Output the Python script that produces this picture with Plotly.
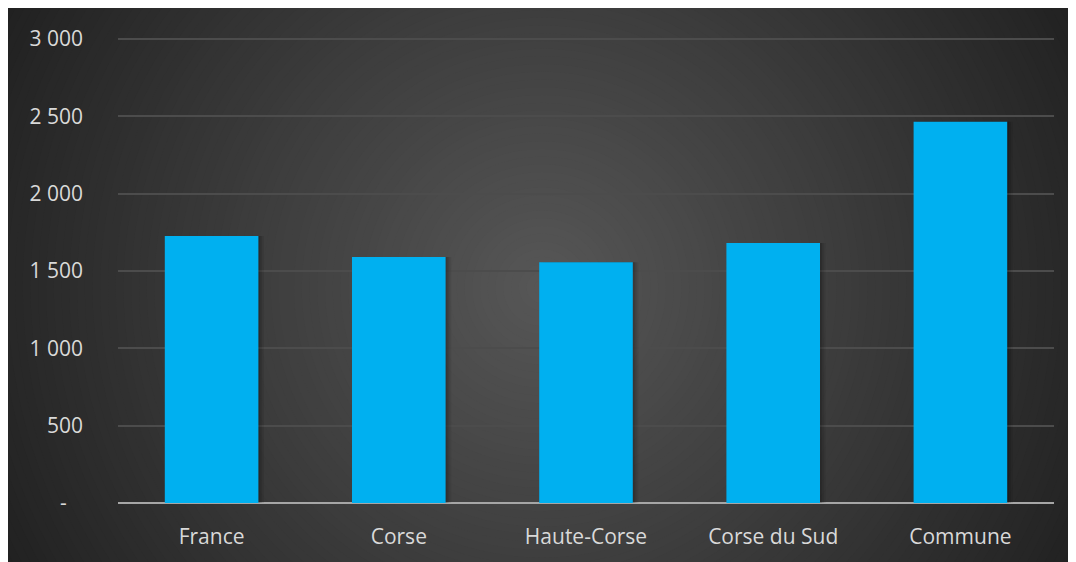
import plotly.graph_objects as go

categories = ["France", "Corse", "Haute-Corse", "Corse du Sud", "Commune"]
values = [1725, 1590, 1556, 1680, 2464]
tick_vals = [0, 500, 1000, 1500, 2000, 2500, 3000]
tick_text = ["-\u00a0\u00a0\u00a0", "500", "1 000", "1 500", "2 000", "2 500", "3 000"]

# page has an 8px body margin; figure coordinates are page coords - 8
W, H = 1068, 554
YMAX = 3025
L, R = 110, 1046
B = 497.5
ph = 466.6 * YMAX / 3000
T = B - ph
pw = R - L


def px2x(px):
    return (px - L) / pw


def py2y(py):
    return (B - py) / ph


shapes = []
# radial gradient background built from concentric circles
cx, cy = W / 2, H / 2 + 4
rmax = 620
N = 80
c0 = (0x57, 0x57, 0x57)
c1 = (0x20, 0x20, 0x20)
for i in range(N, 0, -1):
    r = rmax * i / N
    t = i / N
    col = tuple(round(c0[k] + (c1[k] - c0[k]) * t) for k in range(3))
    shapes.append(dict(
        type="circle", xref="paper", yref="paper", layer="below",
        x0=px2x(cx - r), x1=px2x(cx + r), y0=py2y(cy + r), y1=py2y(cy - r),
        fillcolor="rgb(%d,%d,%d)" % col, line=dict(width=0),
    ))

fig = go.Figure()
# soft shadow behind bars (layered for a blurred look)
for off, alpha in [(0.030, 0.07), (0.020, 0.09), (0.010, 0.12)]:
    fig.add_trace(go.Bar(
        x=categories, y=values, width=0.5, offset=-0.25 + off,
        marker=dict(color="rgba(0,0,0,%.2f)" % alpha, line=dict(width=0)),
        hoverinfo="skip",
    ))
fig.add_trace(go.Bar(
    x=categories, y=values, width=0.5, offset=-0.25,
    marker=dict(color="#00B0F0", line=dict(width=0)),
    hoverinfo="skip",
))

font = dict(family="'Open Sans', sans-serif", size=21, color="#d9d9d9")

fig.update_layout(
    width=W, height=H,
    margin=dict(l=L, r=W - R, t=T, b=H - B),
    paper_bgcolor="#2a2a2a",
    plot_bgcolor="rgba(0,0,0,0)",
    barmode="overlay",
    showlegend=False,
    shapes=shapes,
    font=font,
    xaxis=dict(showgrid=False, showline=False, zeroline=False, ticks="",
               tickfont=font, ticklabelstandoff=19),
    yaxis=dict(range=[0, YMAX], tickvals=tick_vals, ticktext=tick_text,
               showgrid=True, gridcolor="#4c4c4c", gridwidth=1.5,
               zeroline=True, zerolinecolor="#a6a6a6", zerolinewidth=2,
               showline=False, ticks="", tickfont=font, ticklabelstandoff=34),
)

fig.write_html("out.html")
